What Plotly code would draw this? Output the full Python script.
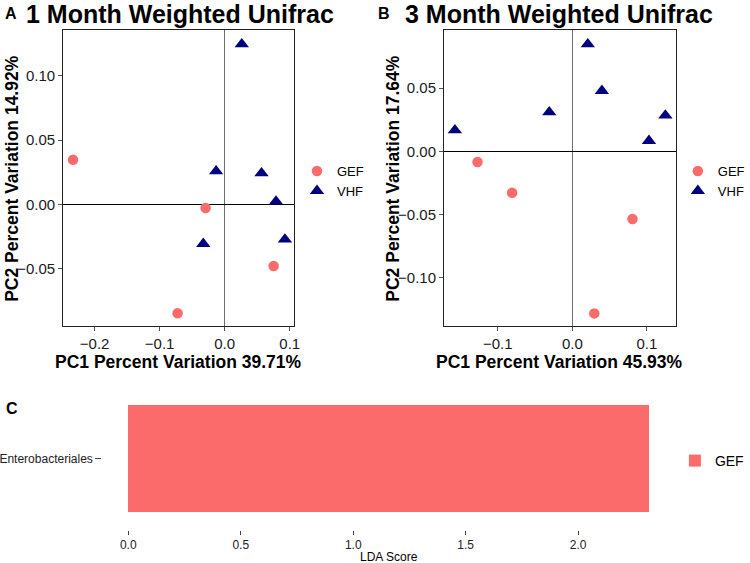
import plotly.graph_objects as go

# ---------------- data ----------------
# Panel A: 1 month weighted UniFrac PCoA
a_gef_x = [-0.2332, -0.0294, 0.0753, -0.0724]
a_gef_y = [0.0347, -0.0029, -0.0481, -0.0849]
a_vhf_x = [0.0263, -0.0132, 0.0566, 0.0789, 0.0926, -0.0329]
a_vhf_y = [0.1247, 0.0258, 0.0242, 0.0022, -0.0274, -0.0308]

# Panel B: 3 month weighted UniFrac PCoA
b_gef_x = [-0.1272, -0.0808, 0.0808, 0.0295]
b_gef_y = [-0.0085, -0.0328, -0.0536, -0.1284]
b_vhf_x = [-0.1576, -0.0309, 0.0208, 0.0397, 0.1029, 0.1249]
b_vhf_y = [0.0167, 0.0310, 0.0849, 0.0479, 0.0083, 0.0284]

# Panel C: LEfSe LDA score
lda_taxa = ["Enterobacteriales"]
lda_score = [2.316]
lda_group = "GEF"

a_xticks = [-0.2, -0.1, 0.0, 0.1]
a_yticks = [-0.05, 0.0, 0.05, 0.10]
b_xticks = [-0.1, 0.0, 0.1]
b_yticks = [-0.10, -0.05, 0.0, 0.05]
c_xticks = [0.0, 0.5, 1.0, 1.5, 2.0]

# ---------------- style ----------------
GEF_COL = "#FC6B6B"
VHF_COL = "#00007F"
FONT = "Liberation Sans, Arial, Helvetica, sans-serif"
NARROW = "Liberation Sans Narrow, Arial Narrow, Liberation Sans, sans-serif"
W, H = 750, 563

fig = go.Figure()

def pts(x, y, name, sym, col, size, xa, ya, leg):
    fig.add_trace(go.Scatter(
        x=x, y=y, mode="markers", name=name,
        marker=dict(symbol=sym, color=col, size=size, line=dict(width=0)),
        xaxis=xa, yaxis=ya, legend=leg, showlegend=True))

pts(a_gef_x, a_gef_y, "GEF", "circle", GEF_COL, 10.5, "x", "y", "legend")
pts(a_vhf_x, a_vhf_y, "VHF", "triangle-up", VHF_COL, 12.5, "x", "y", "legend")
pts(b_gef_x, b_gef_y, "GEF", "circle", GEF_COL, 10.5, "x2", "y2", "legend2")
pts(b_vhf_x, b_vhf_y, "VHF", "triangle-up", VHF_COL, 12.5, "x2", "y2", "legend2")

fig.add_trace(go.Bar(
    x=lda_score, y=lda_taxa, orientation="h", width=0.9, name=lda_group,
    marker=dict(color=GEF_COL, line=dict(width=0)),
    xaxis="x3", yaxis="y3", legend="legend3", showlegend=True))

def px_x(p):
    return p / W

def px_y(p):
    return 1 - p / H

tickfont = dict(family=FONT, size=15, color="#1a1a1a")

def sc_axes(domx, domy, rx, ry, tx, ty, fx, fy):
    xa = dict(domain=domx, range=rx, tickvals=tx, tickformat=fx, showgrid=False,
              zeroline=True, zerolinecolor="#6e6e6e", zerolinewidth=1.2,
              showline=True, linecolor="#222", linewidth=1, mirror=True,
              ticks="outside", ticklen=4, tickcolor="#555", tickfont=tickfont)
    ya = dict(domain=domy, range=ry, tickvals=ty, tickformat=fy, showgrid=False,
              zeroline=True, zerolinecolor="#000", zerolinewidth=1.2,
              showline=True, linecolor="#222", linewidth=1, mirror=True,
              ticks="outside", ticklen=4, tickcolor="#555", tickfont=tickfont)
    return xa, ya

ydom = [px_y(326), px_y(30)]
xa1, ya1 = sc_axes([px_x(64), px_x(298.3)], ydom, [-0.2484, 0.1071], [-0.0948, 0.1357],
                   a_xticks, a_yticks, ".1f", ".2f")
xa2, ya2 = sc_axes([px_x(450), px_x(685)], ydom, [-0.1722, 0.139], [-0.1384, 0.0961],
                   b_xticks, b_yticks, ".1f", ".2f")
xa2["anchor"] = "y2"; ya2["anchor"] = "x2"
xa1["anchor"] = "y"; ya1["anchor"] = "x"

xa3 = dict(domain=[px_x(103.6), px_x(684.4)], range=[-0.1158, 2.4316], tickvals=c_xticks,
           tickformat=".1f", showgrid=False, zeroline=False, showline=False,
           ticks="outside", ticklen=4, tickcolor="#444",
           tickfont=dict(family=NARROW, size=12, color="#222"), anchor="y3")
ya3 = dict(domain=[px_y(530), px_y(387)], range=[-0.6, 0.6], type="category",
           showgrid=False, zeroline=False, showline=False,
           ticks="outside", ticklen=6, tickcolor="#444",
           tickfont=dict(family=NARROW, size=12, color="#222"), anchor="x3")

ann = []
def txt(s, x, y, size, bold=True, family=FONT, angle=0, xanchor="center"):
    ann.append(dict(text=s, x=px_x(x), y=px_y(y), xref="paper", yref="paper",
                    showarrow=False, xanchor=xanchor, yanchor="middle", textangle=angle,
                    font=dict(family=family, size=size, color="#000",
                              weight="bold" if bold else "normal")))

txt("A", 3, 14, 16, xanchor="left")
txt("1 Month Weighted Unifrac", 182, 14, 25)
txt("B", 381, 14, 16, xanchor="left")
txt("3 Month Weighted Unifrac", 567, 14, 25)
txt("PC2 Percent Variation 14.92%", 12, 178, 17.5, angle=-90)
txt("PC2 Percent Variation 17.64%", 398, 178, 17.5, angle=-90)
txt("PC1 Percent Variation 39.71%", 181, 362, 17.5)
txt("PC1 Percent Variation 45.93%", 567, 362, 17.5)
txt("C", 4, 408, 16, xanchor="left")
txt("LDA Score", 394, 557, 12, bold=False, family=NARROW)

legfont = dict(family=FONT, size=13, color="#000")
fig.update_layout(
    width=W, height=H, autosize=False,
    margin=dict(l=0, r=0, t=0, b=0),
    paper_bgcolor="white", plot_bgcolor="white",
    xaxis=xa1, yaxis=ya1, xaxis2=xa2, yaxis2=ya2, xaxis3=xa3, yaxis3=ya3,
    bargap=0,
    annotations=ann,
    legend=dict(x=px_x(301), y=px_y(181), xanchor="left", yanchor="middle",
                font=legfont, bgcolor="rgba(0,0,0,0)", itemwidth=30, tracegroupgap=0),
    legend2=dict(x=px_x(687), y=px_y(181), xanchor="left", yanchor="middle",
                 font=legfont, bgcolor="rgba(0,0,0,0)", itemwidth=30, tracegroupgap=0),
    legend3=dict(x=px_x(684), y=px_y(461), xanchor="left", yanchor="middle",
                 font=dict(family=NARROW, size=14, color="#000"),
                 bgcolor="rgba(0,0,0,0)", itemwidth=30),
)

fig.write_html("out.html", config={"displayModeBar": False},
               post_script="document.body.style.margin='0';")
